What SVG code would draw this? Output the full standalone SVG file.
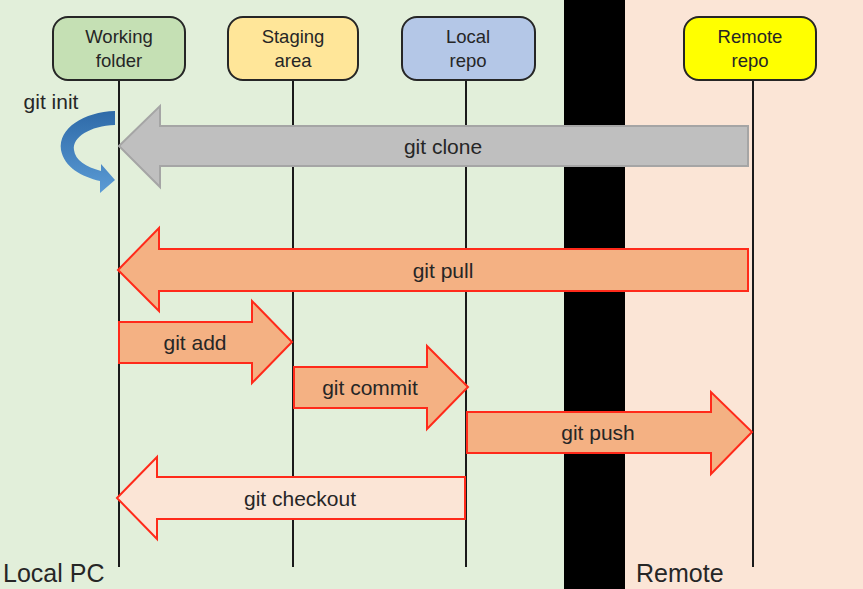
<svg xmlns="http://www.w3.org/2000/svg" width="863" height="589" viewBox="0 0 863 589">
<defs>
<style>
.node rect{stroke:#262626;stroke-width:2}
.nt{font-family:"Liberation Sans",Arial,sans-serif;font-size:18.5px;fill:#262626;text-anchor:middle}
.lt{font-family:"Liberation Sans",Arial,sans-serif;font-size:21px;fill:#262626;text-anchor:middle}
.big{font-family:"Liberation Sans",Arial,sans-serif;font-size:25px;fill:#262626}
.life{stroke:#1a1a1a;stroke-width:2;fill:none}
.orange{fill:#f4b183;stroke:#ff2a1a;stroke-width:2;stroke-linejoin:miter}
.pale{fill:#fbe5d6;stroke:#ff2a1a;stroke-width:2}
.gray{fill:#bfbfbf;stroke:#a5a5a5;stroke-width:2}
</style>
<linearGradient id="blue" x1="0" y1="0" x2="0" y2="1">
<stop offset="0" stop-color="#2e6aa8"/>
<stop offset="1" stop-color="#5b9bd5"/>
</linearGradient>
</defs>
<rect x="0" y="0" width="564" height="589" fill="#e2efda"/>
<rect x="625" y="0" width="238" height="589" fill="#fbe5d6"/>
<rect x="564" y="0" width="61" height="589" fill="#000"/>
<text class="big" x="3" y="582">Local PC</text>
<text class="big" x="636" y="582">Remote</text>
<g id="lifelines">
<line class="life" x1="119" y1="80" x2="119" y2="567"/>
<line class="life" x1="293" y1="80" x2="293" y2="567"/>
<line class="life" x1="466" y1="80" x2="466" y2="567"/>
<line class="life" x1="753" y1="80" x2="753" y2="567"/>
</g>
<g id="node-working" class="node"><rect x="53" y="17" width="132" height="63" rx="15" fill="#c5e0b4"/><text class="nt" x="119" y="43">Working</text><text class="nt" x="119" y="67">folder</text></g>
<g id="node-staging" class="node"><rect x="228" y="17" width="130" height="63" rx="15" fill="#ffe699"/><text class="nt" x="293" y="43">Staging</text><text class="nt" x="293" y="67">area</text></g>
<g id="node-local" class="node"><rect x="402" y="17" width="133" height="63" rx="15" fill="#b4c7e7"/><text class="nt" x="468" y="43">Local</text><text class="nt" x="468" y="67">repo</text></g>
<g id="node-remote" class="node"><rect x="684" y="17" width="132" height="63" rx="15" fill="#ffff00"/><text class="nt" x="750" y="43">Remote</text><text class="nt" x="750" y="67">repo</text></g>
<g id="connectors">
<g id="git-init">
<path d="M115,111 C84,112 58,128 61,150 C64,167 82,177 100,181 L100,193 L115,180 L101,164 L101,171 C86,167 75,160 74,150 C72,137 90,126 115,125 Z" fill="url(#blue)"/>
<text class="lt" x="51" y="109">git init</text>
</g>
<g id="git-clone">
<path class="gray" d="M119,146 L160,106 L160,126 L748,126 L748,166 L160,166 L160,187 Z"/>
<text class="lt" x="443" y="154">git clone</text>
</g>
<g id="git-pull">
<path class="orange" d="M118,270 L159,228 L159,249 L748,249 L748,291 L159,291 L159,311 Z"/>
<text class="lt" x="443" y="278">git pull</text>
</g>
<g id="git-add">
<path class="orange" d="M119,322 L252,322 L252,301 L292,342 L252,383 L252,363 L119,363 Z"/>
<text class="lt" x="195" y="350">git add</text>
</g>
<g id="git-commit">
<path class="orange" d="M294,367 L427,367 L427,346 L468,387 L427,429 L427,408 L294,408 Z"/>
<text class="lt" x="370" y="395">git commit</text>
</g>
<g id="git-push">
<path class="orange" d="M467,412 L711,412 L711,392 L752,432 L711,474 L711,453 L467,453 Z"/>
<text class="lt" x="598" y="440">git push</text>
</g>
<g id="git-checkout">
<path class="pale" d="M117,498 L157,457 L157,477 L465,477 L465,519 L157,519 L157,539 Z"/>
<text class="lt" x="300" y="506">git checkout</text>
</g>
</g>
</svg>
